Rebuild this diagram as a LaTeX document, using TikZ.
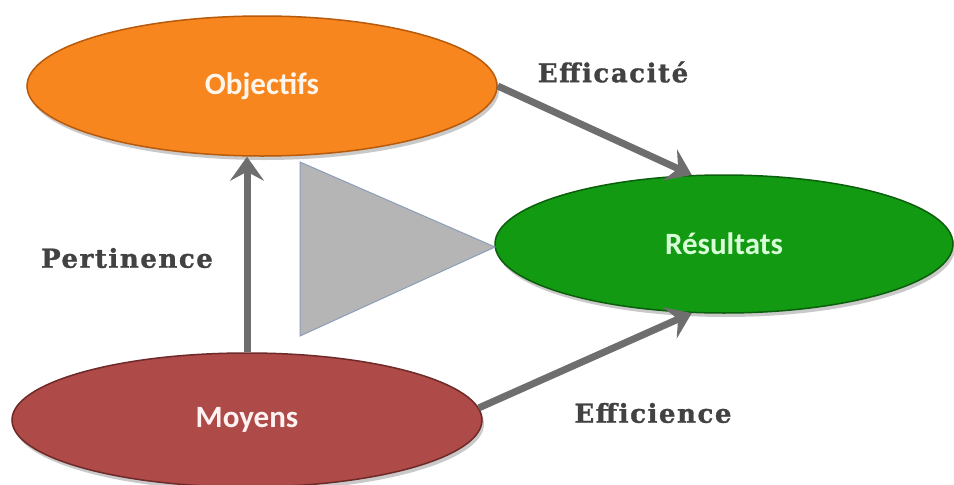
\documentclass[tikz,border=0pt]{standalone}
\usepackage{fontspec}
\setmainfont{Carlito}
\newfontfamily\slab[LetterSpace=6, BoldFont={DejaVu Serif Bold}, BoldFeatures={FakeBold=1.2}]{DejaVu Serif}
\usetikzlibrary{shapes.geometric,arrows.meta,shadows}
\definecolor{objfill}{HTML}{F7861E}
\definecolor{objdraw}{HTML}{B85A0C}
\definecolor{resfill}{HTML}{139A13}
\definecolor{resdraw}{HTML}{0B5E0B}
\definecolor{moyfill}{HTML}{AE4A47}
\definecolor{moydraw}{HTML}{6E2A28}
\definecolor{arrowgray}{HTML}{6E6E6E}
\definecolor{labelgray}{HTML}{424242}
\definecolor{trifill}{HTML}{B5B5B5}
\definecolor{tridraw}{HTML}{8C9DBA}
\tikzset{
  oval/.style={ellipse, minimum width=470pt, minimum height=140pt, inner sep=0pt,
    line width=1.5pt, text=white, font=\bfseries\fontsize{31}{36}\selectfont,
    drop shadow={shadow xshift=2pt, shadow yshift=-4pt, opacity=0.35, fill=black!60}},
  flow/.style={draw=arrowgray, line width=7pt,
    -{Stealth[length=24pt, width=34pt, inset=9pt]}},
  qual/.style={text=labelgray, font=\slab\bfseries\fontsize{26}{30}\selectfont}
}
\begin{document}
\begin{tikzpicture}[x=1pt,y=-1pt]
\useasboundingbox (0,0) rectangle (954,485);
\fill[white] (0,0) rectangle (954,485);

\node[oval, fill=objfill, draw=objdraw, text=white!92!orange] (obj) at (262,86) {Objectifs};
\node[oval, fill=resfill, draw=resdraw, text=white!85!green, minimum width=458pt, minimum height=138pt] (res) at (724,244) {Résultats};
\node[oval, fill=moyfill, draw=moydraw, text=white!95!red, minimum height=134pt] (moy) at (247,420) {Moyens};

\draw[fill=trifill, draw=tridraw, line width=1pt] (300,162) -- (495,247) -- (300,336) -- cycle;

\draw[flow] (moy.north) -- (moy.north |- obj.south);
\draw[flow] (obj.east) -- (res.115);
\draw[flow] (moy.3) -- (res.245);

\node[qual] (eff) at (613,72) {Efficacité};
\node[qual] (per) at (127,258) {Pertinence};
\node[qual] (efi) at (653,413) {Efficience};
\end{tikzpicture}
\end{document}
